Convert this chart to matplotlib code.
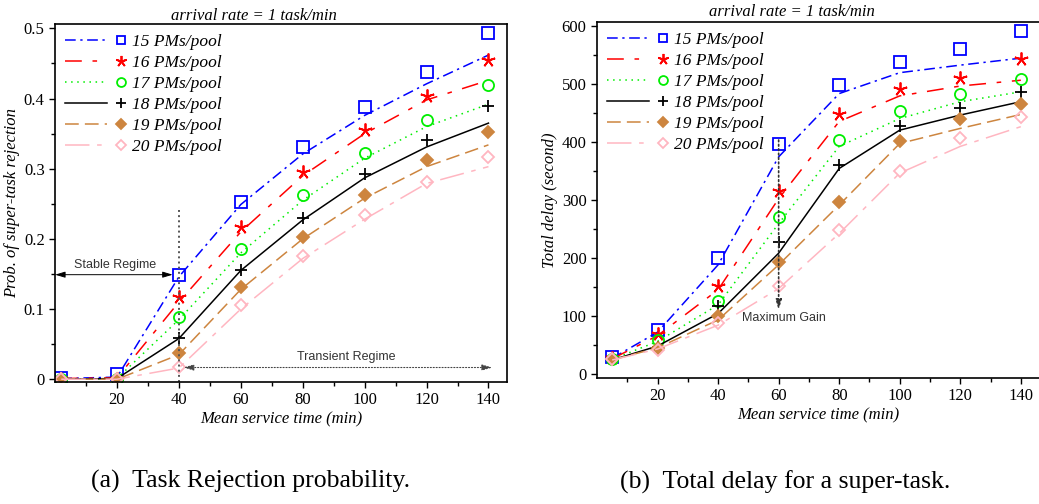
import numpy as np
import matplotlib
matplotlib.use('Agg')
import matplotlib.pyplot as plt
from matplotlib.lines import Line2D
from matplotlib.legend_handler import HandlerBase

plt.rcParams['font.family'] = 'Liberation Serif'

# ---- data ----
pools = ['15 PMs/pool', '16 PMs/pool', '17 PMs/pool', '18 PMs/pool', '19 PMs/pool', '20 PMs/pool']

# (a) rejection probability
xa = [2, 20, 40, 60, 80, 100, 120, 140]
rej_line = [
    [0.001, 0.003, 0.146, 0.249, 0.321, 0.376, 0.421, 0.462],
    [0.001, 0.002, 0.110, 0.210, 0.290, 0.350, 0.398, 0.426],
    [0.000, 0.001, 0.085, 0.180, 0.255, 0.315, 0.360, 0.392],
    [0.000, 0.001, 0.058, 0.155, 0.227, 0.287, 0.331, 0.365],
    [0.000, 0.000, 0.035, 0.128, 0.200, 0.258, 0.303, 0.334],
    [0.000, 0.000, 0.016, 0.100, 0.172, 0.228, 0.279, 0.303],
]
rej_mark = [
    [0.002, 0.008, 0.149, 0.253, 0.331, 0.388, 0.438, 0.493],
    [0.001, 0.001, 0.117, 0.217, 0.295, 0.355, 0.403, 0.455],
    [0.000, 0.000, 0.088, 0.186, 0.262, 0.323, 0.370, 0.420],
    [0.000, 0.000, 0.059, 0.156, 0.230, 0.292, 0.341, 0.389],
    [0.000, 0.000, 0.037, 0.132, 0.202, 0.262, 0.312, 0.353],
    [0.000, 0.000, 0.018, 0.106, 0.176, 0.234, 0.281, 0.317],
]

# (b) total delay
xb = [5, 20, 40, 60, 80, 100, 120, 140]
delay_line = [
    [27, 72, 188, 374, 483, 519, 532, 544],
    [26, 66, 145, 302, 435, 479, 496, 506],
    [25, 56, 119, 259, 392, 440, 469, 486],
    [24, 48, 104, 208, 354, 420, 446, 469],
    [24, 45, 93, 188, 291, 397, 423, 447],
    [24, 43, 84, 147, 242, 346, 392, 426],
]
delay_mark = [
    [29, 75, 199, 396, 497, 537, 559, 591],
    [27, 68, 152, 315, 448, 491, 510, 543],
    [26, 58, 125, 271, 403, 453, 482, 508],
    [25, 47, 117, 228, 360, 427, 459, 486],
    [25, 44, 99, 193, 297, 401, 439, 465],
    [25, 41, 88, 152, 248, 350, 407, 442],
]

colors = ['#0000ff', '#ff0000', '#00ee00', '#000000', '#cd853f', '#ffb6c1']
styles = [(0, (7, 3, 1.5, 3)), (0, (11, 7, 3, 7)), (0, (1, 3)), '-',
          (0, (9, 4)), (0, (16, 5, 3, 5))]
markers = ['s', (5, 2, 0), 'o', '+', 'D', 'D']
mfaces = ['none', 'none', 'none', 'none', '#cd853f', 'none']
msizes = [8, 10, 8, 9, 6, 6]


class LineThenMarker(HandlerBase):
    def create_artists(self, legend, orig, xd, yd, w, h, fs, trans):
        y = h / 2 - yd
        ln = Line2D([-xd, -xd + 0.7 * w], [y, y])
        ln.update_from(orig)
        ln.set_marker('None')
        mk = Line2D([-xd + 0.93 * w], [y])
        mk.update_from(orig)
        mk.set_linestyle('None')
        ln.set_transform(trans)
        mk.set_transform(trans)
        return [ln, mk]


def draw(ax, x, lines, marks, title_y):
    handles = []
    for i in range(6):
        ax.plot(x, lines[i], color=colors[i], linestyle=styles[i], lw=1.1)
        ax.plot(x, marks[i], linestyle='None', marker=markers[i],
                mfc=mfaces[i], mec=colors[i], ms=msizes[i], mew=1.3)
        handles.append(Line2D([], [], color=colors[i], linestyle=styles[i], lw=1.1,
                              marker=markers[i], mfc=mfaces[i], mec=colors[i],
                              ms=msizes[i] * 0.8, mew=1.3))
    ax.legend(handles, pools, loc='upper left', frameon=False,
              handler_map={Line2D: LineThenMarker()}, handlelength=3.5,
              handletextpad=0.4, labelspacing=0.28, borderaxespad=0.15,
              prop={'family': 'Liberation Serif', 'style': 'italic', 'size': 12.5})
    ax.set_xticks([20, 40, 60, 80, 100, 120, 140])
    ax.set_xticks(np.arange(10, 150, 20), minor=True)
    ax.tick_params(labelsize=12, direction='out', length=4, width=1)
    ax.tick_params(which='minor', direction='out', length=3, width=1)
    ax.set_xlabel('Mean service time (min)', fontsize=12, style='italic', labelpad=2)
    for s in ax.spines.values():
        s.set_linewidth(1.2)
    ax.text(0.44, title_y, 'arrival rate = 1 task/min', transform=ax.transAxes,
            ha='center', va='center', fontsize=12, style='italic')


fig = plt.figure(figsize=(10.39, 5.04), dpi=100)
ax1 = fig.add_axes([0.053, 0.242, 0.435, 0.710])
ax2 = fig.add_axes([0.5746, 0.25, 0.4254, 0.706])

draw(ax1, xa, rej_line, rej_mark, 1.024)
ax1.set_xlim(0, 146)
ax1.set_ylim(-0.004, 0.506)
ax1.set_yticks([0, 0.1, 0.2, 0.3, 0.4, 0.5])
ax1.set_yticklabels(['0', '0.1', '0.2', '0.3', '0.4', '0.5'])
ax1.set_yticks(np.arange(0.05, 0.5, 0.1), minor=True)
ax1.set_ylabel('Prob. of super-task rejection', fontsize=12, style='italic', labelpad=3)

ax1.plot([40, 40], [0.241, -0.004], color='#555555', linestyle=':', lw=1.4)
ax1.annotate('', xy=(0, 0.149), xytext=(38, 0.149),
             arrowprops=dict(arrowstyle='<|-|>,head_length=0.6,head_width=0.18',
                             color='black', lw=0.7, shrinkA=0, shrinkB=0))
ax1.text(19.3, 0.163, 'Stable Regime', ha='center', va='center',
         fontsize=9, family='Liberation Sans', color='#333333')
ax1.annotate('', xy=(41.5, 0.0167), xytext=(141.2, 0.0167),
             arrowprops=dict(arrowstyle='<|-|>,head_length=0.6,head_width=0.18',
                             color='#444444', lw=0.8, linestyle=':',
                             shrinkA=0, shrinkB=0))
ax1.text(94, 0.032, 'Transient Regime', ha='center', va='center',
         fontsize=9, family='Liberation Sans', color='#333333')

draw(ax2, xb, delay_line, delay_mark, 1.03)
ax2.set_xlim(0, 146)
ax2.set_ylim(-7, 606)
ax2.set_yticks([0, 100, 200, 300, 400, 500, 600])
ax2.set_yticks(np.arange(50, 600, 100), minor=True)
ax2.spines['right'].set_visible(False)
ax2.set_ylabel('Total delay (second)', fontsize=12, style='italic', labelpad=3)
ax2.annotate('', xy=(60, 110), xytext=(60, 403),
             arrowprops=dict(arrowstyle='-|>,head_length=0.6,head_width=0.18',
                             color='#333333', lw=1.2, linestyle=':',
                             shrinkA=0, shrinkB=0))
ax2.text(61.7, 96, 'Maximum Gain', ha='center', va='center',
         fontsize=9, family='Liberation Sans', color='#333333')

fig.text(0.241, 0.044, '(a)  Task Rejection probability.', ha='center', va='center',
         fontsize=18.5)
fig.text(0.7555, 0.044, '(b)  Total delay for a super-task.', ha='center', va='center',
         fontsize=18.5)

fig.savefig('out.png', dpi=100)
